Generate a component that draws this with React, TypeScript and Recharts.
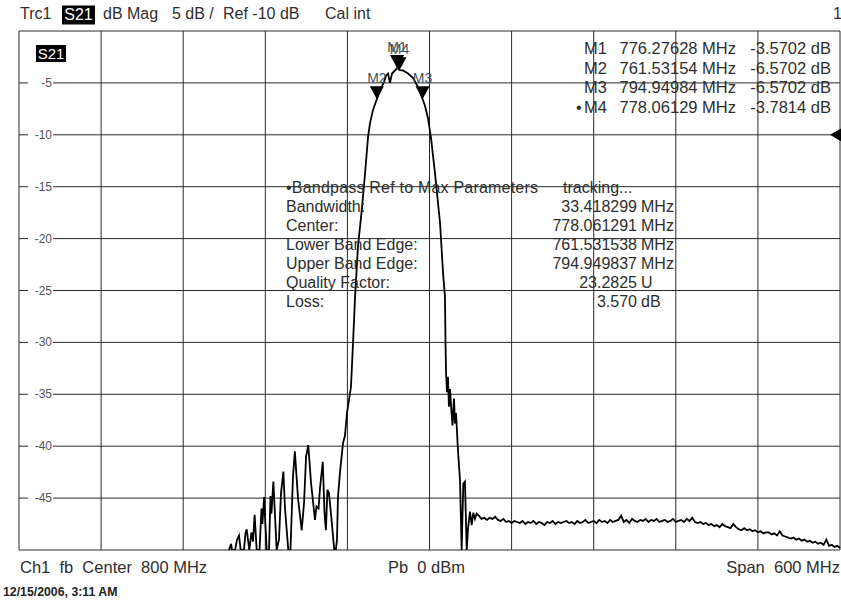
import React from 'react'
import { LineChart, Line, XAxis, YAxis, CartesianGrid, ReferenceDot } from 'recharts'

// sweep: center 800 MHz, span 600 MHz, 5 dB/div, top of screen 0 dB
const freqTicks = [500, 560, 620, 680, 740, 800, 860, 920, 980, 1040, 1100]
const levelTicks = [0, -5, -10, -15, -20, -25, -30, -35, -40, -45, -50]

// lower stopband ringing
const sidelobeFreq = [
  653.5, 655.0, 655.7, 657.9, 659.4, 660.8, 662.0, 664.4, 665.5, 666.4, 668.3, 669.9, 671.0, 672.2,
  673.7, 675.8, 677.2, 677.9, 679.1, 681.0, 682.7, 683.8, 684.5, 685.9, 688.3, 690.0, 691.5, 693.2,
  694.4, 696.8, 698.4, 700.2, 701.6, 703.9, 706.6, 708.3, 709.8, 711.4, 713.4, 716.3, 717.4, 718.9,
  720.0, 722.0, 723.3, 724.3, 725.4, 726.5, 728.0, 730.4, 731.5,
]
const sidelobeDb = [
  -50, -49.4, -50, -50, -49.0, -48.6, -50, -50, -48.4, -48.0, -50, -48.3, -49.2, -46.6,
  -50, -50, -46.0, -47.5, -44.9, -50, -50, -44.8, -46.5, -43.4, -50, -49.0, -44.5, -42.45,
  -46, -50, -50, -43.0, -40.5, -45.0, -48.1, -45.5, -41.0, -39.9, -43.5, -47.1, -45.8, -46.0,
  -44.0, -41.5, -46.5, -48.1, -44.2, -44.5, -46.5, -50, -50,
]

// passband and skirts
const lobeFreq = [
  732.4, 733.1, 734.6, 736.8, 738.2, 739.7, 742.6, 744.1, 745.6, 747.7, 750.7, 752.9, 755.1, 756.5,
  758.7, 761.5, 764.6, 766.8, 768.2, 769.7, 771.1, 772.6, 775.5, 776.3, 777.7, 778.1, 780.6, 784.3,
  787.9, 791.6, 795.0, 796.7, 798.9, 801.1, 804.0, 807.7, 809.9, 811.3, 811.7, 812.1, 812.8, 813.5,
  814.2, 815.0, 815.7, 816.8, 817.9, 818.6, 819.4, 820.8, 822.3, 823.5, 824.7, 825.9, 827.2, 828.1,
  829.6, 830.8, 832.0, 833.2, 834.4,
]
const lobeDb = [
  -49.0, -44.9, -42.5, -39.7, -39.0, -36.8, -34.3, -30.1, -25.6, -20.8, -17.0, -13.7, -10.2, -8.9,
  -7.6, -6.57, -5.5, -4.9, -4.3, -4.1, -5.0, -4.1, -3.7, -3.57, -3.65, -3.78, -3.8, -4.1,
  -4.5, -5.4, -6.57, -7.2, -8.4, -10.3, -13.7, -18.5, -23.3, -25.6, -30.0, -33.0, -34.8, -33.3,
  -36.2, -34.5, -36.0, -38.0, -35.4, -37.8, -36.8, -40.4, -43.3, -50, -43.6, -43.4, -50, -48.0,
  -46.3, -47.6, -46.4, -47.0, -46.5,
]

// upper stopband floor, read every 2 MHz
const floorFreq = [
  836, 838, 840, 842, 844, 846, 848, 850, 852, 854, 856, 858, 860, 862, 864, 866, 868, 870, 872, 874,
  876, 878, 880, 882, 884, 886, 888, 890, 892, 894, 896, 898, 900, 902, 904, 906, 908, 910, 912, 914,
  916, 918, 920, 922, 924, 926, 928, 930, 932, 934, 936, 938, 940, 942, 944, 946, 948, 950, 952, 954,
  956, 958, 960, 962, 964, 966, 968, 970, 972, 974, 976, 978, 980, 982, 984, 986, 988, 990, 992, 994,
  996, 998, 1000, 1002, 1004, 1006, 1008, 1010, 1012, 1014, 1016, 1018, 1020, 1022, 1024, 1026, 1028,
  1030, 1032, 1034, 1036, 1038, 1040, 1042, 1044, 1046, 1048, 1050, 1052, 1054, 1056, 1058, 1060,
  1062, 1064, 1066, 1068, 1070, 1072, 1074, 1076, 1078, 1080, 1082, 1084, 1086, 1088, 1090, 1092,
  1094, 1096, 1098, 1100,
]
const floorDb = [
  -46.7, -47.0, -46.9, -47.1, -46.9, -47.0, -46.8, -47.1, -47.2, -47.0, -47.3, -47.2, -47.4, -47.2,
  -47.3, -47.4, -47.2, -47.5, -47.3, -47.4, -47.2, -47.5, -47.3, -47.4, -47.6, -47.3, -47.4, -47.2,
  -47.5, -47.3, -47.4, -47.3, -47.2, -47.4, -47.3, -47.5, -47.2, -47.4, -47.3, -47.1, -47.4, -47.3,
  -47.2, -47.4, -47.1, -47.3, -47.2, -47.4, -47.1, -47.3, -47.2, -47.1, -46.7, -47.3, -47.1, -47.4,
  -47.0, -47.2, -47.3, -47.1, -47.2, -47.0, -47.3, -47.1, -47.2, -47.0, -47.3, -47.2, -47.1, -47.3,
  -47.2, -47.0, -47.3, -47.2, -47.1, -47.3, -47.0, -47.2, -46.9, -47.3, -47.4, -47.3, -47.5, -47.4,
  -47.6, -47.5, -47.7, -47.6, -47.8, -47.5, -47.7, -47.8, -47.9, -47.5, -47.8, -48.0, -48.1, -47.9,
  -48.1, -48.0, -48.2, -48.1, -48.3, -48.2, -48.4, -48.3, -48.3, -48.5, -48.4, -48.6, -48.2, -48.6,
  -48.7, -48.8, -48.9, -48.8, -49.0, -48.9, -49.1, -49.0, -49.2, -49.1, -49.3, -49.2, -49.4, -49.3,
  -49.5, -49.0, -49.6, -49.5, -49.7, -49.6, -49.8,
]

const markerNames = ['M1', 'M2', 'M3', 'M4']
const markerFreq = [776.27628, 761.53154, 794.94984, 778.06129]
const markerDb = [-3.5702, -6.5702, -6.5702, -3.7814]
const refLevel = -10

const bpLabels = ['Bandwidth:', 'Center:', 'Lower Band Edge:', 'Upper Band Edge:', 'Quality Factor:', 'Loss:']
const bpValues = ['33.418299', '778.061291', '761.531538', '794.949837', '23.2825', '3.570']
const bpUnits = ['MHz', 'MHz', 'MHz', 'MHz', 'U', 'dB']

const FONT = '"Liberation Sans", Arial, Helvetica, sans-serif'
const TEXT = '#2e2e2e'

const trace = [
  ...sidelobeFreq.map((f, i) => ({ f, db: sidelobeDb[i] })),
  ...lobeFreq.map((f, i) => ({ f, db: lobeDb[i] })),
  ...floorFreq.map((f, i) => ({ f, db: floorDb[i] })),
]

function LevelTick({ y, payload }: any) {
  const v = payload.value
  if (v === 0 || v === -50) return <g />
  return (
    <g>
      <rect x={28} y={y - 6} width={25} height={12} fill="#fff" />
      <text x={52} y={y + 4} textAnchor="end" fontSize={12} fill="#555" fontFamily={FONT}>
        {v}
      </text>
    </g>
  )
}

const markerShape = (name: string) => (p: any) => {
  const { cx, cy } = p
  return (
    <g>
      <polygon points={`${cx},${cy} ${cx - 7},${cy - 13} ${cx + 7},${cy - 13}`} fill="#000" />
      <text x={cx} y={cy - 16} textAnchor="middle" fontSize={14} fill="#3d5560" fontFamily={FONT}>
        {name}
      </text>
    </g>
  )
}

const refShape = (p: any) => {
  const { cx, cy } = p
  return <polygon points={`${cx - 10},${cy} ${cx + 2},${cy - 7} ${cx + 2},${cy + 7}`} fill="#000" />
}

function Overlay() {
  const t = { fontFamily: FONT, fill: TEXT, fontSize: 16, style: { whiteSpace: 'pre' as const } }
  return (
    <svg width={841} height={603} style={{ position: 'absolute', left: 0, top: 0, pointerEvents: 'none' }}>
      {/* header */}
      <text x={20} y={19} {...t}>Trc1</text>
      <rect x={62} y={5.5} width={33} height={19} fill="#000" />
      <text x={78.5} y={20} {...t} fill="#fff" textAnchor="middle">S21</text>
      <text x={103} y={19} {...t}>dB Mag</text>
      <text x={172} y={19} {...t}>5 dB /</text>
      <text x={223} y={19} {...t}>Ref -10 dB</text>
      <text x={325} y={19} {...t}>Cal int</text>
      <text x={833} y={19} {...t}>1</text>

      {/* trace label inside grid */}
      <rect x={36} y={45} width={30} height={17} fill="#000" />
      <text x={51} y={59} {...t} fontSize={15} fill="#fff" textAnchor="middle">S21</text>

      {/* marker table */}
      {markerNames.map((m, i) => (
        <g key={m}>
          {i === 3 && <text x={576} y={54 + i * 19.5} {...t}>•</text>}
          <text x={584} y={54 + i * 19.5} {...t} fontSize={16.5}>{m}</text>
          <text x={736} y={54 + i * 19.5} {...t} fontSize={16.5} textAnchor="end">{markerFreq[i].toFixed(5)} MHz</text>
          <text x={831} y={54 + i * 19.5} {...t} fontSize={16.5} textAnchor="end">{markerDb[i].toFixed(4)} dB</text>
        </g>
      ))}

      {/* bandpass search readout */}
      <text x={286} y={193} {...t} textLength={252}>•Bandpass Ref to Max Parameters</text>
      <text x={563} y={193} {...t}>tracking...</text>
      {bpLabels.map((l, i) => (
        <g key={l}>
          <text x={286} y={212 + i * 19} {...t}>{l}</text>
          <text x={637} y={212 + i * 19} {...t} textAnchor="end">{bpValues[i]}</text>
          <text x={641} y={212 + i * 19} {...t}>{bpUnits[i]}</text>
        </g>
      ))}

      {/* footer */}
      <text x={20} y={573} {...t} fontSize={16.5}>Ch1  fb  Center  800 MHz</text>
      <text x={388} y={573} {...t} fontSize={16.5}>Pb  0 dBm</text>
      <text x={840} y={573} {...t} fontSize={16.5} textAnchor="end">Span  600 MHz</text>
      <text x={3} y={596} {...t} fontSize={12.3} fontWeight="bold" fill="#222">12/15/2006, 3:11 AM</text>
    </svg>
  )
}

export default function App() {
  return (
    <div style={{ position: 'absolute', left: 0, top: 0, width: 841, height: 603, background: '#fff' }}>
      <LineChart width={841} height={603} data={trace} margin={{ top: 31, right: 1, bottom: 52, left: 18 }}>
        <CartesianGrid stroke="#2a2a2a" strokeWidth={1} />
        <XAxis
          dataKey="f"
          type="number"
          domain={[500, 1100]}
          ticks={freqTicks}
          interval={0}
          tick={() => <g />}
          tickLine={false}
          axisLine={false}
          height={1}
        />
        <YAxis
          type="number"
          domain={[-50, 0]}
          ticks={levelTicks}
          interval={0}
          tick={(p: any) => <LevelTick {...p} />}
          tickLine={false}
          axisLine={false}
          width={1}
          allowDataOverflow
        />
        <Line
          type="linear"
          dataKey="db"
          stroke="#000"
          strokeWidth={1.8}
          dot={false}
          isAnimationActive={false}
        />
        {markerNames.map((m, i) => (
          <ReferenceDot
            key={m}
            x={markerFreq[i]}
            y={markerDb[i]}
            r={0}
            ifOverflow="visible"
            shape={markerShape(m)}
          />
        ))}
        <ReferenceDot x={1100} y={refLevel} r={0} ifOverflow="visible" shape={refShape} />
      </LineChart>
      <Overlay />
    </div>
  )
}
